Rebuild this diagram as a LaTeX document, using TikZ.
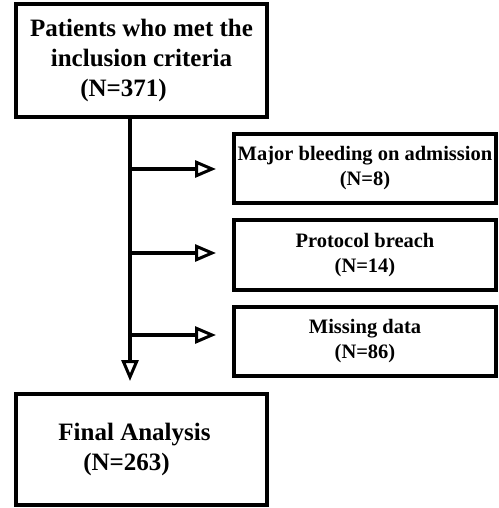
\documentclass[tikz,border=0pt]{standalone}
\usepackage{fontspec}
\setmainfont{Liberation Serif}
\usetikzlibrary{arrows.meta}
\begin{document}
\begin{tikzpicture}[x=1pt,y=-1pt,
  box/.style={draw=black, line width=4pt, rectangle, inner sep=0pt, align=center, font=\bfseries},
  bigtxt/.style={font=\bfseries\fontsize{25}{30}\selectfont},
  smalltxt/.style={font=\bfseries\fontsize{20.5}{25}\selectfont},
  conn/.style={line width=4.5pt, -{Triangle[open, length=21pt, width=17pt, line width=3pt]}}
]
\useasboundingbox (0,0) rectangle (498,508);
\node[box, bigtxt, minimum width=251pt, minimum height=113pt] (top) at (141.5,60.5)
  {Patients who met the\\inclusion criteria\hspace*{20pt}\\(N=371)\hspace*{36pt}};
\node[box, smalltxt, minimum width=262pt, minimum height=69pt] (b1) at (365,168.5)
  {Major bleeding on admission\\(N=8)};
\node[box, smalltxt, minimum width=262pt, minimum height=70pt] (b2) at (365,255)
  {Protocol breach\\(N=14)};
\node[box, smalltxt, minimum width=262pt, minimum height=69pt] (b3) at (365,341.5)
  {Missing data\\(N=86)};
\node[box, bigtxt, minimum width=251pt, minimum height=111pt] (fin) at (141.5,449.5)
  {Final Analysis\hspace*{14pt}\\(N=263)\hspace*{30pt}};
\coordinate (s) at (130,117);
\coordinate (e) at (130,394);
\coordinate (c1) at (130,169);
\coordinate (c2) at (130,253);
\coordinate (c3) at (130,335);
\coordinate (t1) at (234,169);
\coordinate (t2) at (234,253);
\coordinate (t3) at (234,335);
\draw[conn, shorten >=13pt] (s) -- (e);
\draw[conn, shorten >=18pt] (c1) -- (t1);
\draw[conn, shorten >=18pt] (c2) -- (t2);
\draw[conn, shorten >=18pt] (c3) -- (t3);
\end{tikzpicture}
\end{document}
